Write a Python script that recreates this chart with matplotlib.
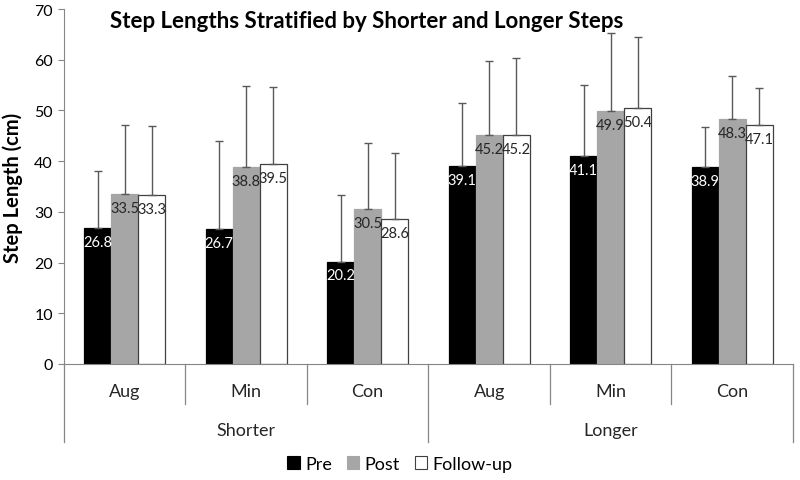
import matplotlib
matplotlib.use("Agg")
import matplotlib.pyplot as plt
import matplotlib.transforms as mtransforms
from matplotlib.patches import Patch
import numpy as np

plt.rcParams['font.family'] = ['Lato', 'DejaVu Sans']

categories = ["Aug", "Min", "Con", "Aug", "Min", "Con"]
groups = ["Shorter", "Longer"]
series = ["Pre", "Post", "Follow-up"]
pre = [26.8, 26.7, 20.2, 39.1, 41.1, 38.9]
post = [33.5, 38.8, 30.5, 45.2, 49.9, 48.3]
follow = [33.3, 39.5, 28.6, 45.2, 50.4, 47.1]
pre_err = [11.2, 17.3, 13.2, 12.4, 13.9, 7.9]
post_err = [13.7, 16.0, 13.0, 14.6, 15.3, 8.4]
follow_err = [13.7, 15.2, 13.0, 15.2, 14.1, 7.4]

colors = ["#000000", "#A6A6A6", "#FFFFFF"]
label_colors = ["white", "#262626", "#262626"]

fig = plt.figure(figsize=(8, 4.81), dpi=100)
ax = fig.add_axes([0.08, 0.2412, 0.911, 0.738])

x = np.arange(len(categories))
w = 0.222
data = [pre, post, follow]
errs = [pre_err, post_err, follow_err]
for i, (vals, err) in enumerate(zip(data, errs)):
    xs = x + (i - 1) * w
    ax.bar(xs, vals, w, color=colors[i], edgecolor="#404040" if i == 2 else colors[i],
           linewidth=0.9, zorder=2)
    ax.errorbar(xs, vals, yerr=[np.zeros(len(vals)), err], fmt='none',
                ecolor="#595959", elinewidth=1, capsize=3, capthick=1, zorder=3)
    for xx, v in zip(xs, vals):
        ax.annotate(f"{v:.1f}", (xx, v), xytext=(0, -5), textcoords="offset points",
                    ha="center", va="top", fontsize=10.5, color=label_colors[i], zorder=4)

ax.set_xlim(-0.5, 5.5)
ax.set_ylim(0, 70)
ax.set_yticks(range(0, 71, 10))
ax.tick_params(axis='y', labelsize=11.5, length=4, color="#868686", pad=4)
ax.tick_params(axis='x', length=0, labelbottom=False)
for s in ["top", "right"]:
    ax.spines[s].set_visible(False)
ax.spines["left"].set_color("#868686")
ax.spines["bottom"].set_color("#868686")

trans = mtransforms.blended_transform_factory(ax.transData, ax.transAxes)
# separators
for b in np.arange(-0.5, 6.0, 1.0):
    outer = b in (-0.5, 2.5, 5.5)
    y1 = -0.22 if outer else -0.113
    ax.plot([b, b], [0, y1], transform=trans, color="#868686", lw=0.9, clip_on=False)
for xi, c in zip(x, categories):
    ax.text(xi, -0.076, c, transform=trans, ha="center", va="center", fontsize=13, color="#262626")
for gi, g in enumerate(groups):
    ax.text(1 + 3 * gi, -0.186, g, transform=trans, ha="center", va="center", fontsize=13, color="#262626")

ax.set_ylabel("Step Length (cm)", fontsize=14.5, fontweight="bold", labelpad=8)
fig.text(367 / 800, 1 - 21 / 481, "Step Lengths Stratified by Shorter and Longer Steps",
         ha="center", va="center", fontsize=16, fontweight="bold")

handles = [Patch(facecolor=colors[i], edgecolor="#404040" if i == 2 else colors[i], linewidth=0.8)
           for i in range(3)]
fig.legend(handles, series, loc="center", bbox_to_anchor=(0.5, 1 - 465 / 481), ncol=3,
           frameon=False, fontsize=13, handlelength=0.7, handleheight=0.7,
           handletextpad=0.3, columnspacing=0.8)

fig.savefig("out.png", dpi=100)
